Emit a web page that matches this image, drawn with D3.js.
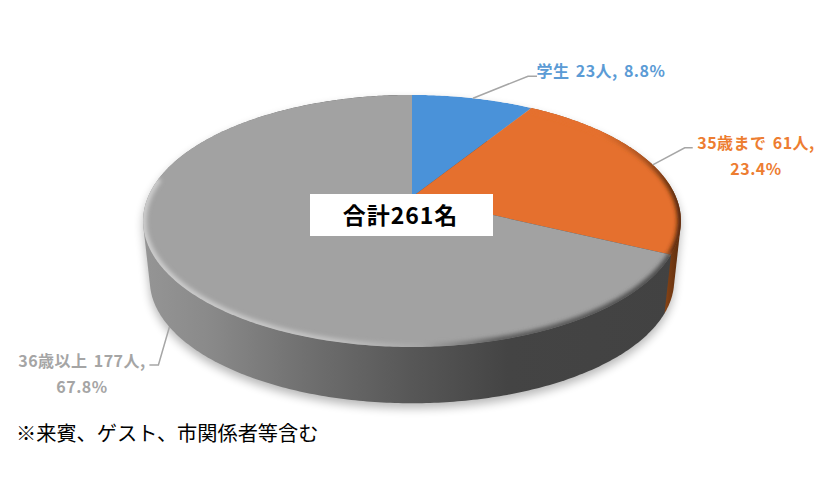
<!DOCTYPE html>
<html>
<head>
<meta charset="utf-8">
<script src="https://cdn.jsdelivr.net/npm/d3@7"></script>
<style>
  html, body { margin: 0; background: #fff; }
  text { font-family: "Noto Sans CJK JP", sans-serif; }
</style>
</head>
<body>
<svg id="chart" width="830" height="500"></svg>
<script>
const categories = ["学生", "35歳まで", "36歳以上"];
const counts = [23, 61, 177];
const percents = ["8.8%", "23.4%", "67.8%"];
const totalLabel = "合計261名";
const footnote = "※来賓、ゲスト、市関係者等含む";

const topColors = ["#4a92d9", "#e5702e", "#a2a2a2"];
const labelColors = ["#5b9bd5", "#ed7d31", "#a5a5a5"];

const svg = d3.select("#chart");
const defs = svg.append("defs");

// the tilted pie is a circle seen in perspective
const cx = 412, cy = 197;
const rx = 264, ry = 121.5, persp = 0.19;
const depth = 56, bottomScale = 0.975;

function project(a, isBottom) {
    const u = Math.sin(a), v = Math.cos(a);
    const w = 1 + persp * v;
    const s = isBottom ? bottomScale : 1;
    return [cx + s * rx * u / w, cy + (isBottom ? depth + 4 : 0) - s * ry * v / w];
}

function arcPoints(a0, a1, isBottom) {
    const n = Math.max(2, Math.ceil((a1 - a0) * 80));
    return d3.range(n + 1).map(i => project(a0 + (a1 - a0) * i / n, isBottom));
}

const line = d3.line();
const arcs = d3.pie().sort(null)(counts);
const fullCircle = arcPoints(0, 2 * Math.PI, false);
const fullBottom = arcPoints(0, 2 * Math.PI, true);
const hull = d3.polygonHull(fullCircle.concat(fullBottom));

function gradient(id, stops) {
    const g = defs.append("linearGradient").attr("id", id)
        .attr("gradientUnits", "userSpaceOnUse")
        .attr("x1", 143).attr("x2", 680).attr("y1", 0).attr("y2", 0);
    stops.forEach(s => g.append("stop").attr("offset", s[0]).attr("stop-color", s[1]));
}
gradient("sideGray", [[0, "#959595"], [0.12, "#8a8a8a"], [0.3, "#707070"], [0.5, "#575757"], [0.68, "#444444"], [1, "#424242"]]);
gradient("sideOrange", [[0.9, "#8a4516"], [0.97, "#8a4516"], [1, "#5c2d0e"]]);
gradient("rimGray", [[0, "#cfcfcf"], [0.35, "#c2c2c2"], [0.52, "#a6a6a6"], [0.66, "#5c5c5c"], [1, "#4a4a4a"]]);
gradient("rimOrange", [[0.85, "#e5702e"], [0.93, "#a85220"], [1, "#4a2408"]]);

defs.append("filter").attr("id", "blurShadow")
    .attr("x", "-10%").attr("y", "-10%").attr("width", "120%").attr("height", "120%")
    .append("feGaussianBlur").attr("stdDeviation", 5);
defs.append("filter").attr("id", "blurRim")
    .attr("x", "-10%").attr("y", "-10%").attr("width", "120%").attr("height", "120%")
    .append("feGaussianBlur").attr("stdDeviation", 2);
defs.append("clipPath").attr("id", "topClip")
    .append("path").attr("d", line(fullCircle) + "Z");

// soft shadow under the pie
svg.append("path").attr("d", line(hull) + "Z")
    .attr("transform", "translate(0,5)")
    .attr("fill", "#000").attr("opacity", 0.28)
    .attr("filter", "url(#blurShadow)");

// side wall, orange first so the gray part covers its inner corner
[[1, "url(#sideOrange)"], [2, "url(#sideGray)"]].forEach(([i, fill]) => {
    const pts = arcPoints(arcs[i].startAngle, arcs[i].endAngle, false)
        .concat(arcPoints(arcs[i].startAngle, arcs[i].endAngle, true));
    svg.append("path").attr("d", line(d3.polygonHull(pts)) + "Z").attr("fill", fill);
});

// top face
const topG = svg.append("g").attr("clip-path", "url(#topClip)");
arcs.forEach((d, i) => {
    const pts = [[cx, cy]].concat(arcPoints(d.startAngle, d.endAngle, false));
    topG.append("path").attr("d", line(pts) + "Z").attr("fill", topColors[i]);
});

// bevel along the front rim only, the back edge stays clean
const rimEnd = [null, arcs[1].endAngle, 1.55 * Math.PI];
[[2, "url(#rimGray)", 7], [1, "url(#rimOrange)", 7]].forEach(([i, stroke, w]) => {
    topG.append("path")
        .attr("d", line(arcPoints(arcs[i].startAngle, rimEnd[i], false)))
        .attr("fill", "none").attr("stroke", stroke).attr("stroke-width", w)
        .attr("filter", "url(#blurRim)");
});

// leader lines start from the middle of each slice
const mids = arcs.map(d => (d.startAngle + d.endAngle) / 2);
const leaderBends = [[[55, -22], [64, -22]], [[32, -17], [40, -17]], [[-11, 38], [-20, 38]]];
mids.forEach((m, i) => {
    const start = project(m, i === 2);
    const pts = [start].concat(leaderBends[i].map(b => [start[0] + b[0], start[1] + b[1]]));
    svg.append("path").attr("d", line(pts))
        .attr("fill", "none").attr("stroke", "#a6a6a6").attr("stroke-width", 1.5);
});

// data labels
const labelLines = [
    [`${categories[0]} ${counts[0]}人, ${percents[0]}`],
    [`${categories[1]} ${counts[1]}人,`, percents[1]],
    [`${categories[2]} ${counts[2]}人,`, percents[2]]
];
const labelPos = [[601, 71], [756, 143], [82, 361]];
labelLines.forEach((rows, i) => {
    rows.forEach((row, j) => {
        svg.append("text")
            .attr("x", labelPos[i][0]).attr("y", labelPos[i][1] + j * 26)
            .attr("dy", "0.36em")
            .attr("text-anchor", "middle")
            .attr("font-size", 16).attr("font-weight", 700)
            .attr("word-spacing", 2).attr("letter-spacing", 0.5)
            .attr("fill", labelColors[i])
            .text(row);
    });
});

// total box
svg.append("rect").attr("x", 310).attr("y", 194).attr("width", 183).attr("height", 42).attr("fill", "#fff");
svg.append("text").attr("x", 400.5).attr("y", 216).attr("dy", "0.36em")
    .attr("text-anchor", "middle").attr("font-size", 23).attr("font-weight", 700)
    .attr("letter-spacing", 1).attr("fill", "#000").text(totalLabel);

svg.append("text").attr("x", 16).attr("y", 434).attr("dy", "0.36em")
    .attr("font-size", 20.2).attr("fill", "#000").text(footnote);
</script>
</body>
</html>
